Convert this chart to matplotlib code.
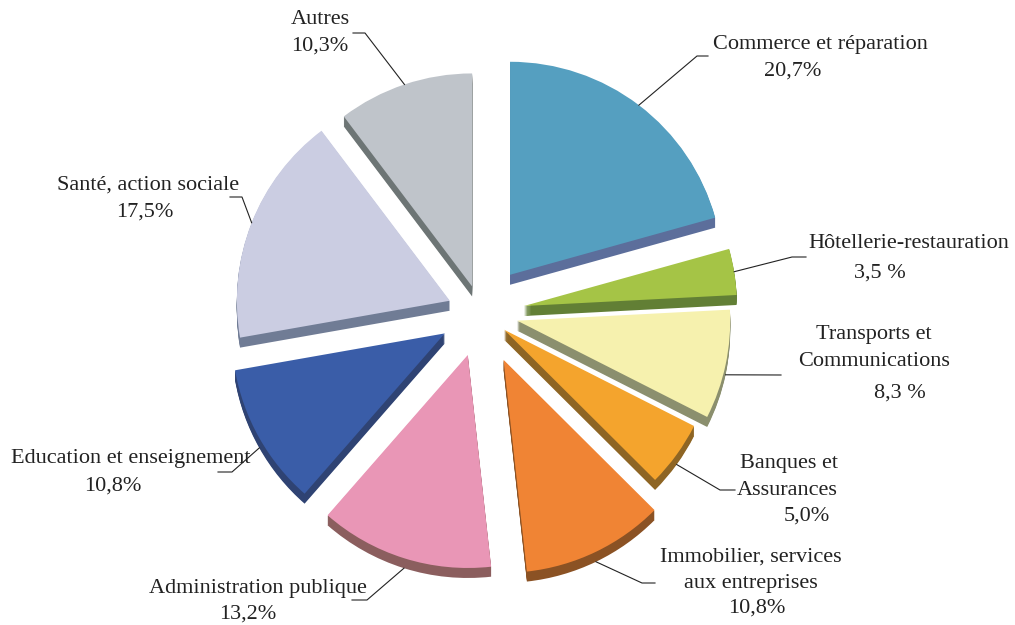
import numpy as np
import matplotlib.pyplot as plt
from matplotlib.patches import Wedge

plt.rcParams['font.family'] = ['Liberation Serif', 'DejaVu Serif']

# Répartition par secteur (%)
names = ["Commerce et réparation", "Hôtellerie-restauration", "Transports et\nCommunications",
         "Banques et\nAssurances", "Immobilier, services\naux entreprises",
         "Administration publique", "Education et enseignement",
         "Santé, action sociale", "Autres"]
values = [20.7, 3.5, 8.3, 5.0, 10.8, 13.2, 10.8, 17.5, 10.3]
pct_sep = ["", " ", " ", "", "", "", "", "", ""]

faces = ["#559FC0", "#A5C446", "#F6F1AE", "#F4A42D", "#F08434",
         "#E996B6", "#3A5DA8", "#CBCDE2", "#BFC4CA"]
sides = ["#5C6E9B", "#627F35", "#8B8F6E", "#8E6524", "#8B5224",
         "#8B5E5E", "#2F4373", "#707C95", "#6D7575"]
explode_px = [48, 43.5, 37, 28.5, 52, 44, 41.5, 33.5, 28]

W, H = 1015, 625
cx, cy = 481, H - 313
R = 213
depth = 10

# label layout, pixel coords from top: name pos, name ha, pct pos, pct ha, elbow, end
layout = [
    ((820, 44), "center", (793, 71), "center", (697, 56), (708, 56)),
    ((909, 244), "center", (880, 273), "center", (792, 257), (806, 257)),
    ((874, 348), "center", (900, 393), "center", (781, 375), (781, 375)),
    ((838, 477), "right", (830, 516), "right", (720, 490), (735, 490)),
    ((751, 570), "center", (757, 608), "center", (642, 583), (655, 583)),
    ((258, 589), "center", (248, 614), "center", (367, 600), (352, 600)),
    ((131, 459), "center", (113, 486), "center", (232, 472), (218, 472)),
    ((148, 185), "center", (145, 212), "center", (242, 197), (230, 197)),
    ((320, 19), "center", (320, 46), "center", (365, 33), (353, 33)),
]

fig = plt.figure(figsize=(W / 100, H / 100), dpi=100)
ax = fig.add_axes([0, 0, 1, 1])
ax.set_xlim(0, W)
ax.set_ylim(0, H)
ax.axis("off")

vals = np.array(values)
frac = vals / vals.sum()
ends = 90 - 360 * np.cumsum(frac)
starts = np.concatenate([[90], ends[:-1]])

apexes = []
for i in range(len(vals)):
    mid = np.radians((starts[i] + ends[i]) / 2)
    ax_ = cx + explode_px[i] * np.cos(mid)
    ay_ = cy + explode_px[i] * np.sin(mid)
    apexes.append((ax_, ay_, mid))

# side of each slice (extrusion downwards)
for i, (px, py, mid) in enumerate(apexes):
    for k in range(1, depth + 1):
        ax.add_patch(Wedge((px, py - k), R, ends[i], starts[i],
                           facecolor=sides[i], edgecolor="none"))

# top faces
for i, (px, py, mid) in enumerate(apexes):
    ax.add_patch(Wedge((px, py), R, ends[i], starts[i],
                       facecolor=faces[i], edgecolor="none"))

txt = dict(fontsize=16, color="#222222", va="center")
for i, (px, py, mid) in enumerate(apexes):
    (nx, ny), nha, (qx, qy), qha, (ex, ey), (tx, ty) = layout[i]
    sx = px + R * np.cos(mid)
    sy = py + R * np.sin(mid)
    if np.sin(mid) < 0:
        sy -= depth
    ax.plot([sx, ex, tx], [sy, H - ey, H - ty], color="#222222", lw=0.8)
    ax.text(nx, H - ny, names[i], ha=nha, multialignment=nha,
            linespacing=1.55, **txt)
    pct = f"{values[i]:.1f}".replace(".", ",") + pct_sep[i] + "%"
    ax.text(qx, H - qy, pct, ha=qha, **txt)

fig.savefig("out.png", dpi=100)
